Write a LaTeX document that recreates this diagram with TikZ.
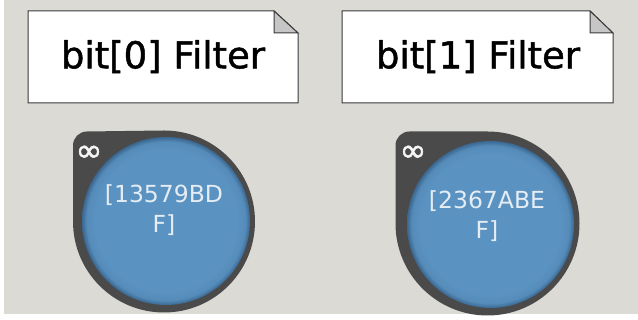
\documentclass[tikz,border=0pt]{standalone}
\usepackage{fontspec}
\setmainfont{DejaVu Sans}
\newfontfamily\djv{DejaVu Sans}
\newfontfamily\notefont[FakeBold=1.3]{DejaVu Sans}
\newfontfamily\inffont[FakeBold=1.5]{DejaVu Sans}
\definecolor{bgc}{HTML}{DBDAD5}
\definecolor{ringc}{HTML}{4A4A4A}
\definecolor{bluec}{HTML}{5A92C1}
\definecolor{bluee}{HTML}{3A6790}
\definecolor{foldc}{HTML}{C6C6C6}
\definecolor{notel}{HTML}{3A3A3A}
\definecolor{txtc}{HTML}{E4ECF4}
\pgfdeclareradialshading{ballshade}{\pgfpoint{0bp}{0bp}}{color(0bp)=(bluec); color(21bp)=(bluec); color(23.6bp)=(bluec!85!bluee); color(25bp)=(bluee); color(50bp)=(bluee)}
\tikzset{
  notebox/.style={fill=white, draw=notel, line width=1pt, line join=miter},
  foldtri/.style={fill=foldc, draw=notel, line width=1pt},
  notetext/.style={anchor=base, font=\notefont\fontsize{37}{40}\selectfont, text=black, inner sep=0pt},
  ringshape/.style={fill=ringc},
  innerball/.style={shading=ballshade},
  inftext/.style={font=\inffont\fontsize{32}{32}\selectfont, text=white!92!gray, inner sep=0pt},
  balltext/.style={font=\djv\fontsize{23.5}{30}\selectfont, text=txtc, align=center, inner sep=0pt}
}
\begin{document}
\begin{tikzpicture}[x=1pt,y=1pt]
\useasboundingbox (0,0) rectangle (638,320);
\fill[white] (0,0) rectangle (638,320);
\fill[bgc] (4,6) rectangle (638,320);
% note 1
\path[notebox] (28,309) -- (274,309) -- (298,287) -- (298,217) -- (28,217) -- cycle;
\path[foldtri] (274,309) -- (274,287) -- (298,287) -- cycle;
\node[notetext] (n0) at (163,251.7) {bit[0] Filter};
% note 2
\path[notebox] (342,309) -- (590,309) -- (613,287) -- (613,217) -- (342,217) -- cycle;
\path[foldtri] (590,309) -- (590,287) -- (613,287) -- cycle;
\node[notetext] (n1) at (478,251.7) {bit[1] Filter};
% ball 1
\path[ringshape] (73,98.5) -- (73,174.5) arc[start angle=180,end angle=90,radius=14] -- (164,189.5) arc[start angle=90,end angle=-180,radius=91] -- cycle;
\path[innerball] (166,99) circle[radius=84];
\node[inftext] (i0) at (89,166.5) {∞};
\node[balltext] (b0) at (164,110) {[13579BD\\F]};
% ball 2
\path[ringshape] (395.5,96.5) -- (395.5,174.5) arc[start angle=180,end angle=90,radius=14] -- (487.5,188.5) arc[start angle=90,end angle=-180,radius=92] -- cycle;
\path[innerball] (490.5,95.5) circle[radius=83.5];
\node[inftext] (i1) at (413,166.5) {∞};
\node[balltext] (b1) at (487,104) {[2367ABE\\F]};
\end{tikzpicture}
\end{document}
